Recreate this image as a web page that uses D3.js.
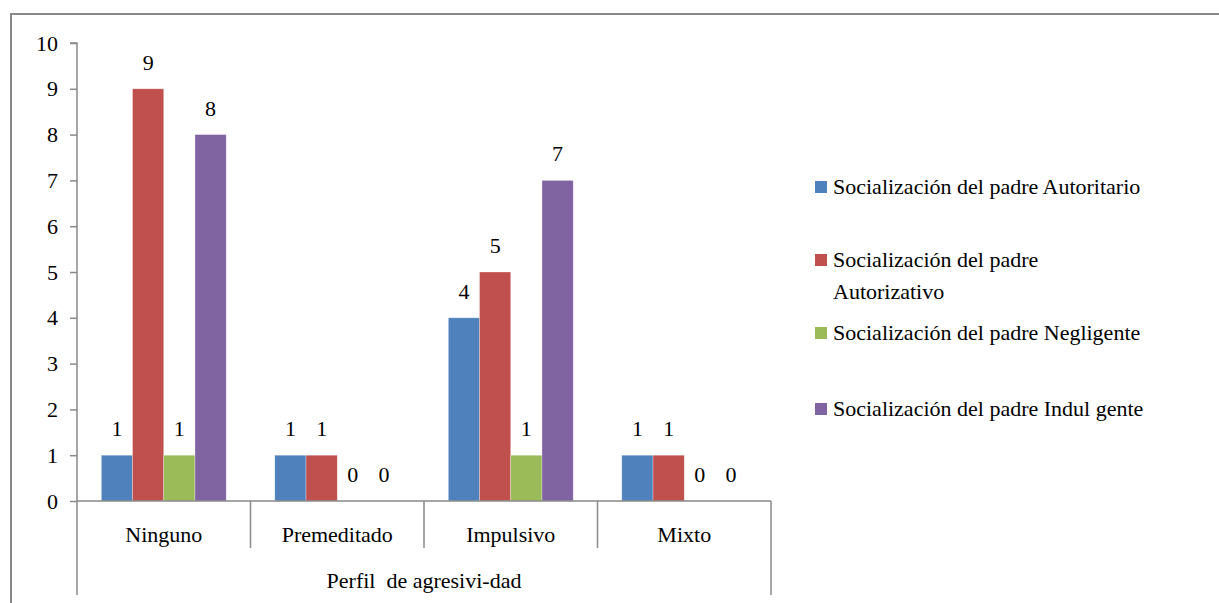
<!DOCTYPE html>
<html><head><meta charset="utf-8">
<script src="https://cdn.jsdelivr.net/npm/d3@7"></script>
<style>
html body svg#c text, html body svg#c g text { font-family: 'Liberation Serif', 'Tinos', 'Times New Roman', serif !important; }
</style>
</head>
<body style="margin:0">
<svg id="c" width="1219" height="603" font-family="Liberation Serif"></svg>
<script>
const categories = ["Ninguno","Premeditado","Impulsivo","Mixto"];
const legendLines = [["Socialización del padre Autoritario"],["Socialización del padre","Autorizativo"],["Socialización del padre Negligente"],["Socialización del padre Indul gente"]];
const autoritario = [1,1,4,1];
const autorizativo = [9,1,5,1];
const negligente = [1,0,1,0];
const indulgente = [8,0,7,0];
const seriesValues = [autoritario, autorizativo, negligente, indulgente];
const colors = ["#4F81BD","#C0504D","#9BBB59","#8064A2"];
const yTicks = [0,1,2,3,4,5,6,7,8,9,10];
const axisTitle = "Perfil  de agresivi-dad";

const FONT = "'Liberation Serif'";
const FS = "22px";
const svg = d3.select("#c");
const gray = "#898989";
function T(sel){ return sel.attr("font-family","Liberation Serif").style("font-family",FONT).style("font-size",FS).attr("fill","#000"); }

svg.append("rect").attr("x",11).attr("y",14).attr("width",1300).attr("height",700)
  .attr("fill","none").attr("stroke",gray).attr("stroke-width",2);

const x0 = 77, x1 = 771, yTop = 43, yBot = 501;
const y = d3.scaleLinear().domain([0,10]).range([yBot,yTop]);
const x = d3.scaleBand().domain(categories).range([x0,x1]).padding(0);
const bw = x.bandwidth();
const xs = d3.scaleBand().domain(d3.range(seriesValues.length)).range([bw*0.14, bw*0.86]).padding(0);

const yAxis = d3.axisLeft(y).tickValues(yTicks).tickSize(7).tickPadding(12).tickFormat(d3.format("d"));
const ga = svg.append("g").attr("transform",`translate(${x0},0)`).call(yAxis);
ga.attr("font-family","Liberation Serif").attr("font-size",22);
ga.select(".domain").attr("stroke",gray).attr("stroke-width",1.5).attr("d",`M-7,${yTop}H0V${yBot}`);
ga.selectAll(".tick line").attr("stroke",gray).attr("stroke-width",1.5);
T(ga.selectAll(".tick text"));

const groups = svg.append("g").selectAll("g").data(categories).join("g")
  .attr("transform",c=>`translate(${x(c)},0)`);
seriesValues.forEach((vals,si)=>{
  groups.append("rect")
    .attr("x",xs(si)).attr("width",xs.bandwidth())
    .attr("y",(c,i)=>y(vals[i])).attr("height",(c,i)=>yBot-y(vals[i]))
    .attr("fill",colors[si]).attr("stroke","#fff").attr("stroke-opacity",0.5).attr("stroke-width",0.6);
  T(groups.append("text")
    .attr("x",xs(si)+xs.bandwidth()/2).attr("y",(c,i)=>y(vals[i])-19)
    .attr("text-anchor","middle"))
    .text((c,i)=>vals[i]);
});

const gx = svg.append("g");
gx.append("line").attr("x1",x0).attr("x2",x1).attr("y1",yBot).attr("y2",yBot).attr("stroke",gray).attr("stroke-width",1.5);
const seps = categories.map(c=>x(c)).concat([x1]);
gx.selectAll("line.sep").data(seps).join("line").attr("class","sep")
  .attr("x1",d=>d).attr("x2",d=>d).attr("y1",yBot)
  .attr("y2",(d,i)=> (i===0||i===seps.length-1)?595:548)
  .attr("stroke",gray).attr("stroke-width",1.5);
T(gx.selectAll("text.cat").data(categories).join("text").attr("class","cat")
  .attr("x",c=>x(c)+bw/2).attr("y",542).attr("text-anchor","middle")).text(c=>c);
T(gx.append("text").attr("x",(x0+x1)/2).attr("y",588).attr("text-anchor","middle"))
  .style("white-space","pre").text(axisTitle);

const legY = [187, 260, 333, 409];
const lg = svg.append("g");
legendLines.forEach((lines,i)=>{
  lg.append("rect").attr("x",815).attr("y",legY[i]-6).attr("width",12).attr("height",12).attr("fill",colors[i]);
  lines.forEach((ln,j)=>{
    T(lg.append("text").attr("x",833).attr("y",legY[i]+7+j*32)).text(ln);
  });
});
</script></body></html>
